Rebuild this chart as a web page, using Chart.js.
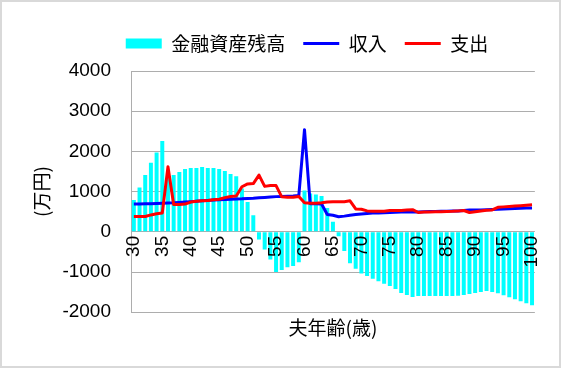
<!DOCTYPE html>
<html>
<head>
<meta charset="utf-8">
<script src="https://cdn.jsdelivr.net/npm/chart.js@4.4.0/dist/chart.umd.min.js"></script>
<style>
  html, body { margin: 0; padding: 0; background: #fff; }
  #wrap { width: 557px; height: 364px; border: 2px solid #d9d9d9; position: relative; }
</style>
</head>
<body>
<div id="wrap"><canvas id="chart1"></canvas></div>
<script>
// ages (x categories)
const ages = [30, 31, 32, 33, 34, 35, 36, 37, 38, 39,
  40, 41, 42, 43, 44, 45, 46, 47, 48, 49,
  50, 51, 52, 53, 54, 55, 56, 57, 58, 59,
  60, 61, 62, 63, 64, 65, 66, 67, 68, 69,
  70, 71, 72, 73, 74, 75, 76, 77, 78, 79,
  80, 81, 82, 83, 84, 85, 86, 87, 88, 89,
  90, 91, 92, 93, 94, 95, 96, 97, 98, 99,
  100];

// 金融資産残高
const assets = [790, 1100, 1410, 1720, 1970, 2260, 1380, 1410, 1490, 1560,
  1590, 1590, 1615, 1590, 1590, 1560, 1510, 1440, 1380, 1080,
  740, 410, -190, -440, -690, -1000, -950, -880, -850, -760,
  1030, 950, 930, 890, 590, 250, -110, -480, -780, -920,
  -1040, -1100, -1170, -1230, -1290, -1350, -1420, -1520, -1570, -1620,
  -1600, -1600, -1600, -1600, -1600, -1600, -1600, -1590, -1570, -1550,
  -1520, -1500, -1470, -1500, -1530, -1580, -1630, -1680, -1730, -1780,
  -1830];

// 収入
const income = [690, 690, 695, 700, 705, 710, 715, 720, 730, 740,
  750, 760, 770, 780, 790, 800, 805, 810, 815, 820,
  830, 835, 845, 855, 865, 875, 880, 885, 890, 900,
  2540, 700, 700, 690, 430, 410, 375, 390, 410, 430,
  445, 455, 465, 470, 475, 480, 485, 490, 490, 495,
  495, 500, 505, 505, 510, 510, 515, 520, 530, 540,
  540, 545, 550, 555, 560, 570, 575, 580, 585, 590,
  595];

// 支出
const spending = [380, 380, 380, 420, 450, 470, 1620, 680, 680, 690,
  740, 760, 770, 780, 800, 810, 850, 880, 890, 1120,
  1190, 1200, 1410, 1130, 1150, 1150, 870, 860, 860, 880,
  720, 710, 710, 720, 740, 750, 750, 750, 770, 570,
  560, 520, 510, 510, 510, 530, 530, 530, 540, 550,
  480, 490, 495, 500, 500, 505, 510, 520, 530, 480,
  500, 520, 535, 545, 610, 620, 630, 640, 650, 660,
  670];

const yTicks = [-2000, -1000, 0, 1000, 2000, 3000, 4000];

const cjk = "'Noto Sans CJK JP', sans-serif";
const num = "'Liberation Sans', Arial, sans-serif";
const gridGray = "#adadad";

Chart.defaults.color = "#000";

// excel puts the legend a bit right of center and higher above the plot
const legendShift = {
  id: "legendShift",
  afterLayout(chart) {
    const lg = chart.legend;
    lg.left += 36;
    lg.right += 36;
    lg.top -= 8;
    lg.bottom -= 8;
  }
};

const ctx = document.getElementById("chart1").getContext("2d");
new Chart(ctx, {
  type: "bar",
  data: {
    labels: ages,
    datasets: [
      {
        label: "金融資産残高",
        data: assets,
        backgroundColor: "#00ffff",
        borderWidth: 0,
        barPercentage: 0.7,
        categoryPercentage: 1.0,
        pointStyle: "rect",
        order: 2
      },
      {
        type: "line",
        label: "収入",
        data: income,
        borderColor: "#0000ff",
        backgroundColor: "#0000ff",
        borderWidth: 3,
        borderJoinStyle: "round",
        pointRadius: 0,
        pointStyle: "line",
        tension: 0,
        fill: false,
        order: 1
      },
      {
        type: "line",
        label: "支出",
        data: spending,
        borderColor: "#ff0000",
        backgroundColor: "#ff0000",
        borderWidth: 3,
        borderJoinStyle: "round",
        pointRadius: 0,
        pointStyle: "line",
        tension: 0,
        fill: false,
        order: 0
      }
    ]
  },
  options: {
    responsive: true,
    maintainAspectRatio: false,
    animation: false,
    layout: { padding: { left: 0, right: 19, top: 22, bottom: 0 } },
    plugins: {
      legend: {
        position: "top",
        labels: {
          usePointStyle: true,
          pointStyleWidth: 36,
          boxHeight: 10,
          padding: 18,
          font: { family: cjk, size: 19 },
          sort: (a, b) => a.datasetIndex - b.datasetIndex
        }
      },
      title: {
        display: true,
        position: "bottom",
        text: "夫年齢(歳)",
        fullSize: false,
        font: { family: cjk, size: 19, weight: "normal" },
        padding: { top: 4, bottom: 27 }
      },
      tooltip: { enabled: false }
    },
    scales: {
      x: {
        position: { y: 0 },
        grid: { display: false, drawTicks: false },
        border: { display: false },
        ticks: {
          z: 1,
          autoSkip: false,
          minRotation: 90,
          maxRotation: 90,
          padding: 4,
          font: { family: num, size: 19 },
          callback: function (v, i) {
            return ages[i] % 5 === 0 ? String(ages[i]) : "";
          }
        },
        afterFit: function (s) { s.height = 0; }
      },
      y: {
        min: yTicks[0],
        max: yTicks[yTicks.length - 1],
        afterBuildTicks: function (s) { s.ticks = yTicks.map(v => ({ value: v })); },
        ticks: {
          padding: 20,
          font: { family: num, size: 19 },
          callback: v => String(v)
        },
        grid: { color: gridGray, drawTicks: false },
        border: { color: gridGray },
        title: {
          display: true,
          text: "(万円)",
          font: { family: cjk, size: 19 },
          padding: { top: 28, bottom: 0 }
        },
        afterFit: function (s) { s.width = 129; }
      }
    }
  },
  plugins: [legendShift]
});
</script>
</body>
</html>
